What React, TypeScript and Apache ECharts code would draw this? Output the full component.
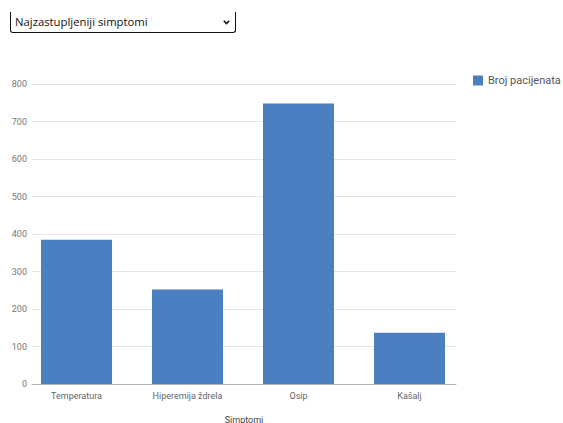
import React, { useEffect, useRef } from "react";
import * as echarts from "echarts";

const categories = ["Temperatura", "Hiperemija ždrela", "Osip", "Kašalj"];
const patientCounts = [385, 252, 748, 137];
const seriesName = "Broj pacijenata";
const xAxisTitle = "Simptomi";
const selectLabel = "Najzastupljeniji simptomi";

export default function App() {
  const ref = useRef<HTMLDivElement>(null);

  useEffect(() => {
    if (!ref.current) return;
    const chart = echarts.init(ref.current, undefined, { renderer: "svg" });
    chart.setOption({
      animation: false,
      textStyle: { fontFamily: "Roboto, Arial, sans-serif" },
      grid: [
        { left: 32, right: 107, top: 84, bottom: 39, outerBoundsMode: "none", containLabel: false },
        { left: 21, right: 98, top: 84, bottom: 39, outerBoundsMode: "none", containLabel: false },
      ],
      legend: {
        left: 468,
        top: 70,
        itemWidth: 10,
        itemHeight: 10,
        icon: "rect",
        textStyle: { fontSize: 11, color: "#555" },
        data: [seriesName],
      },
      xAxis: [
        {
          gridIndex: 0,
          type: "category",
          data: categories,
          axisLabel: { show: false },
          axisTick: { show: false },
          axisLine: { lineStyle: { color: "#b0b0b0", width: 1 } },
          name: xAxisTitle,
          nameLocation: "middle",
          nameGap: 31,
          nameTextStyle: { fontSize: 9, color: "#444" },
        },
        {
          gridIndex: 1,
          type: "category",
          data: categories,
          axisLine: { show: false },
          axisTick: { show: false },
          axisLabel: { fontSize: 9, color: "#666", margin: 7 },
        },
      ],
      yAxis: [
        {
          gridIndex: 0,
          type: "value",
          min: 0,
          max: 800,
          interval: 100,
          axisLine: { show: false },
          axisTick: { show: false },
          axisLabel: { fontSize: 9, color: "#777", margin: 5 },
          splitLine: { lineStyle: { color: "#e4e4e4" } },
        },
        {
          gridIndex: 1,
          type: "value",
          min: 0,
          max: 800,
          interval: 100,
          show: false,
        },
      ],
      series: [
        {
          name: seriesName,
          type: "bar",
          xAxisIndex: 1,
          yAxisIndex: 1,
          data: patientCounts,
          barWidth: 71,
          itemStyle: { color: "#4a7fc1" },
        },
      ],
    });
    return () => chart.dispose();
  }, []);

  return (
    <div style={{ position: "absolute", left: 0, top: 0, width: 563, height: 423, background: "#fff" }}>
      <div ref={ref} style={{ position: "absolute", left: 0, top: 0, width: 563, height: 423 }} />
      <div
        style={{
          position: "absolute",
          left: 10,
          top: 12,
          width: 224,
          height: 20,
          borderLeft: "1px solid #111",
          borderRight: "1px solid #111",
          borderBottom: "1px solid #111",
          borderRadius: "0 0 3px 3px",
          fontFamily: "'Open Sans', sans-serif",
          fontSize: 11.3,
          color: "#111",
          background: "#fff",
          boxSizing: "content-box",
        }}
      >
        <span style={{ position: "absolute", left: 4, top: 3, lineHeight: "14px", whiteSpace: "nowrap" }}>{selectLabel}</span>
        <svg style={{ position: "absolute", right: 5, top: 8 }} width="7" height="5" viewBox="0 0 7 5">
          <polyline points="0.8,0.8 3.5,3.6 6.2,0.8" fill="none" stroke="#111" strokeWidth="1.6" />
        </svg>
      </div>
    </div>
  );
}
